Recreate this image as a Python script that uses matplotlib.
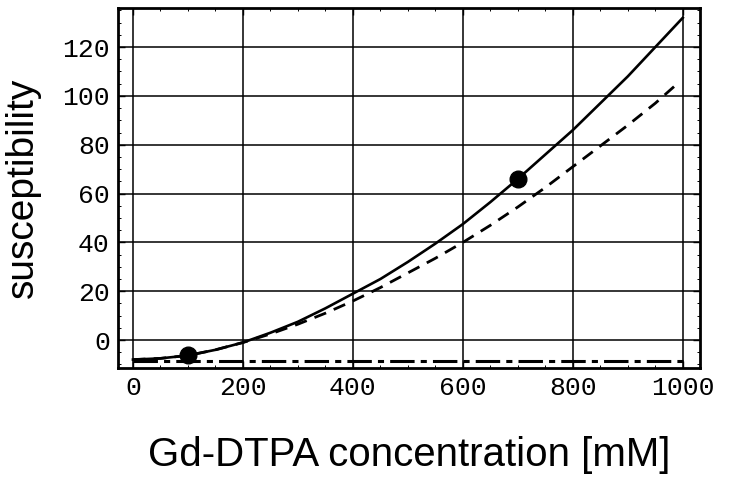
import matplotlib
matplotlib.use("Agg")
import matplotlib.pyplot as plt
import numpy as np

# data
conc = [0, 50, 100, 150, 200, 250, 300, 350, 400, 450, 500, 550, 600, 650, 700,
        750, 800, 850, 900, 950, 1000]
solid_vals = [-8, -7.5, -6.3, -4, -1, 3, 7.5, 13, 19, 25, 32, 39.5, 47.5, 56.5, 66,
              76, 86, 97, 108, 120, 132]
dash_x = [0, 50, 100, 150, 200, 250, 300, 350, 400, 450, 500, 550, 600, 650, 700,
          750, 800, 850, 900, 950, 990]
dash_vals = [-8, -7.5, -6.3, -4, -1, 2.5, 6.5, 11, 16, 21.5, 27.5, 33.5, 40, 47, 54.5,
             62.5, 71, 79.5, 88, 97, 105]
base_x = [0, 1000]
base_vals = [-8.5, -8.5]
pts_x = [100, 700]
pts_y = [-6.3, 66]
xticks = [0, 200, 400, 600, 800, 1000]
yticks = [0, 20, 40, 60, 80, 100, 120]

fig = plt.figure(figsize=(7.29, 4.86), dpi=100)
ax = fig.add_axes([0.162, 0.243, 0.798, 0.7405])

ax.plot(conc, solid_vals, color="black", lw=1.9)
ax.plot(dash_x, dash_vals, color="black", lw=2.0, dashes=(4.5, 3))
ax.plot(base_x, base_vals, color="black", lw=2.2, dashes=(8, 2, 2, 2))
ax.plot(pts_x, pts_y, "o", color="black", markersize=12)

ax.set_xlim(-27, 1031)
ax.set_ylim(-11.4, 136)
ax.set_xticks(xticks)
ax.set_yticks(yticks)
ax.set_xticks(np.arange(0, 1001, 50), minor=True)
ax.set_yticks(np.arange(-10, 136, 5), minor=True)
ax.grid(True, which="major", color="black", lw=1.1)
for s in ax.spines.values():
    s.set_linewidth(2.0)
ax.tick_params(which="major", direction="in", length=5, width=1.0, pad=6,
               top=True, right=True)
ax.tick_params(which="minor", direction="in", length=2.5, width=0.7,
               top=True, right=True)
for lab in ax.get_xticklabels() + ax.get_yticklabels():
    lab.set_fontfamily("Liberation Mono")
    lab.set_fontsize(19)

ax.set_xlabel("Gd-DTPA concentration [mM]", fontfamily="Liberation Sans",
              fontsize=29, labelpad=26)
ax.set_ylabel("susceptibility", fontfamily="Liberation Sans", fontsize=28,
              labelpad=15)

fig.savefig("out.png", dpi=100)
